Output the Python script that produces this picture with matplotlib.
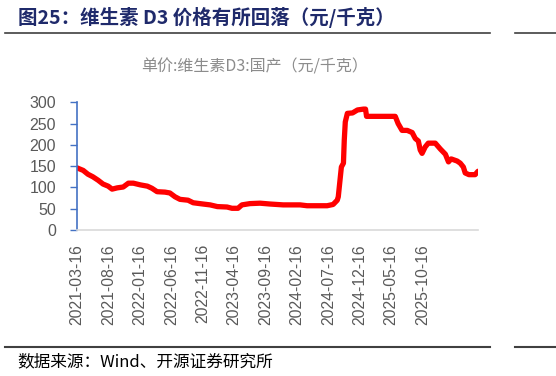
import matplotlib
matplotlib.use("Agg")
import matplotlib.pyplot as plt
import pandas as pd

plt.rcParams['font.family'] = ['Noto Sans CJK SC', 'DejaVu Sans']

dates = ["2021-03-16", "2021-04-15", "2021-05-08", "2021-06-01", "2021-06-26", "2021-07-20",
         "2021-08-14", "2021-09-02", "2021-09-27", "2021-10-26", "2021-11-20", "2021-12-14",
         "2022-01-17", "2022-02-20", "2022-03-14", "2022-04-08", "2022-05-16", "2022-06-09",
         "2022-07-04", "2022-07-28", "2022-09-05", "2022-09-30", "2022-11-17", "2022-12-21",
         "2023-01-25", "2023-03-13", "2023-04-06", "2023-05-05", "2023-05-24", "2023-07-02",
         "2023-08-20", "2023-10-08", "2023-12-10", "2024-03-01", "2024-04-04", "2024-07-10",
         "2024-08-08", "2024-08-28", "2024-09-02", "2024-09-17", "2024-09-27", "2024-10-01",
         "2024-10-06", "2024-10-16", "2024-11-10", "2024-12-04", "2025-01-02", "2025-01-12",
         "2025-01-17", "2025-06-05", "2025-06-19", "2025-07-08", "2025-08-02", "2025-08-26",
         "2025-09-10", "2025-09-25", "2025-10-04", "2025-10-13", "2025-10-28", "2025-11-12",
         "2025-12-16", "2026-01-10", "2026-02-03", "2026-02-18", "2026-03-03", "2026-04-01",
         "2026-04-16", "2026-05-01", "2026-05-10", "2026-05-28", "2026-06-27", "2026-07-11"]
prices = [146, 140, 131, 125, 117, 108,
          103, 96, 99, 101, 110, 110,
          106, 103, 98, 90, 89, 87,
          78, 72, 70, 64, 61, 59,
          55, 54, 51, 51, 59, 62,
          63, 61, 59, 59, 57, 57,
          60, 70, 78, 148, 157, 211,
          254, 274, 275, 282, 284, 284,
          267, 267, 250, 234, 234, 229,
          215, 209, 188, 180, 195, 204,
          204, 190, 178, 160, 167, 162,
          157, 148, 134, 130, 130, 138]
tick_dates = ["2021-03-16", "2021-08-16", "2022-01-16", "2022-06-16", "2022-11-16", "2023-04-16",
              "2023-09-16", "2024-02-16", "2024-07-16", "2024-12-16", "2025-05-16", "2025-10-16"]
yticks = [0, 50, 100, 150, 200, 250, 300]

title = "图25：维生素 D3 价格有所回落（元/千克）"
chart_title = "单价:维生素D3:国产（元/千克）"
source = "数据来源：Wind、开源证券研究所"

W, H = 556, 376
fig = plt.figure(figsize=(W / 100, H / 100), dpi=100)

def fx(px):
    return px / W

def fy(py):
    return 1 - py / H

x = pd.to_datetime(dates)
ax = fig.add_axes([fx(77), fy(230), fx(478) - fx(77), fy(102.3) - fy(230)])
ax.plot(x, prices, color='#FF0000', lw=3.8, solid_joinstyle='round', solid_capstyle='round')
ax.set_xlim(x[0], x[-1])
ax.set_ylim(0, 300)
ax.set_yticks(yticks)
ax.set_yticklabels([str(v) for v in yticks], color='#595959', fontsize=11.5,
                   family=['Liberation Sans', 'DejaVu Sans'])
tk = pd.to_datetime(tick_dates)
ax.set_xticks(tk)
ax.set_xticklabels(tick_dates, rotation=90, color='#595959', fontsize=11.3,
                   family=['Liberation Sans', 'DejaVu Sans'])
ax.tick_params(axis='x', length=0, pad=10)
ax.tick_params(axis='y', length=5, width=1, color='#4472C4', pad=10)
for s in ['top', 'right']:
    ax.spines[s].set_visible(False)
ax.spines['left'].set_color('#4472C4')
ax.spines['left'].set_linewidth(1.2)
ax.spines['bottom'].set_color('#D9D9D9')
ax.spines['bottom'].set_linewidth(1.2)
ax.patch.set_alpha(0)

fig.text(fx(18), fy(17), title, fontsize=14, fontweight='bold', color='#1F2A6B',
         ha='left', va='center')
fig.add_artist(plt.Line2D([fx(5), fx(490)], [fy(33), fy(33)], color='#404040', lw=1.2))
fig.add_artist(plt.Line2D([fx(515), fx(556)], [fy(33), fy(33)], color='#404040', lw=1.2))
fig.text(fx(255), fy(67), chart_title, fontsize=11.5, color='#8C8C8C', ha='center', va='center')
fig.add_artist(plt.Line2D([fx(5), fx(490)], [fy(347), fy(347)], color='#404040', lw=1.5))
fig.add_artist(plt.Line2D([fx(515), fx(556)], [fy(347), fy(347)], color='#404040', lw=1.5))
fig.text(fx(17), fy(362), source, fontsize=12, color='#000000', ha='left', va='center')

fig.savefig('out.png', dpi=100)
